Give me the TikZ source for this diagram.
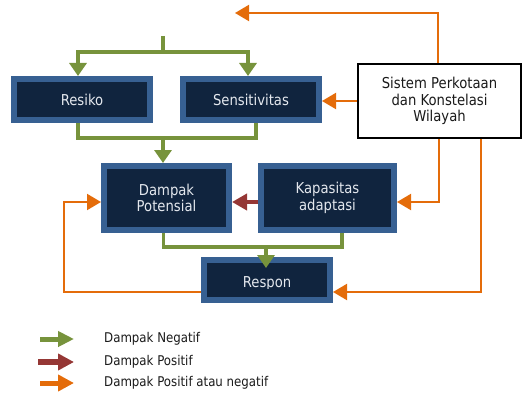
\documentclass[tikz,border=0pt]{standalone}
\usepackage{fontspec}
\setmainfont{DejaVu Sans}[FakeStretch=0.88]
\usetikzlibrary{arrows.meta,calc}
\definecolor{boxouter}{HTML}{376092}
\definecolor{boxinner}{HTML}{10243E}
\definecolor{boxtext}{HTML}{E4E8EE}
\definecolor{cgreen}{HTML}{77933C}
\definecolor{cred}{HTML}{953735}
\definecolor{corange}{HTML}{E46C0A}
\definecolor{ctext}{HTML}{1A1A1A}
\begin{document}
\begin{tikzpicture}[x=1pt,y=-1pt,
  blk/.style={draw=boxouter, line width=6pt, fill=boxinner, text=boxtext,
    font=\fontsize{15}{16.7}\selectfont, align=center, inner sep=0pt},
  sysbox/.style={draw=black, line width=1.6pt, fill=white, text=ctext,
    font=\fontsize{15}{16.7}\selectfont, align=center, inner sep=0pt,
    minimum width=163pt, minimum height=74pt},
  gline/.style={draw=cgreen, line width=3.3pt},
  garrow/.style={gline, -{Triangle[length=13pt,width=17pt]}},
  rarrow/.style={draw=cred, line width=4pt, -{Triangle[length=15pt,width=16pt]}},
  oline/.style={draw=corange, line width=2pt},
  oarrow/.style={oline, -{Triangle[length=14pt,width=16pt]}},
  legtext/.style={font=\fontsize{13.4}{15}\selectfont, text=ctext, anchor=west, inner sep=0pt}
]
\useasboundingbox (0,0) rectangle (524,393);

% boxes
\node[blk, minimum width=136pt, minimum height=41pt] (resiko) at (82,99.5) {Resiko};
\node[blk, minimum width=136pt, minimum height=41pt] (sens) at (251,99.5) {Sensitivitas};
\node[blk, minimum width=125pt, minimum height=64pt] (dampak) at (166.5,198) {Dampak\\Potensial};
\node[blk, minimum width=133pt, minimum height=64pt] (kap) at (327.5,198) {Kapasitas\\adaptasi};
\node[blk, minimum width=126pt, minimum height=40pt] (respon) at (267,280) {};
\begin{scope}
  \clip (207,262) rectangle (327,288);
  \node[text=boxtext, font=\fontsize{15}{16.7}\selectfont, inner sep=0pt] (responlabel) at (267,284) {Respon};
\end{scope}
\node[sysbox] (sistem) at (439.5,101) {Sistem Perkotaan\\dan Konstelasi\\Wilayah};

% green connectors
\coordinate (gtop) at (163,36);
\coordinate (gj1) at (163,52);
\coordinate (gj2) at (163,138);
\coordinate (gj3) at (266,247);
\draw[gline] (gtop) -- (gj1);
\draw[garrow] (gj1) -| ([xshift=-4pt]resiko.north);
\draw[garrow] (gj1) -| ([xshift=-3pt]sens.north);
\draw[gline] ([xshift=-4pt]resiko.south) -- ++(0,15) -| ([xshift=5pt]sens.south);
\draw[garrow] (gj2) -- (gj2 |- dampak.north);
\draw[gline] ([xshift=-3pt]dampak.south) -- ++(0,14) -| ([xshift=14.5pt]kap.south);
\draw[garrow, shorten >=-11pt] (gj3) -- (gj3 |- respon.north);

% red connector
\draw[rarrow] ([yshift=-4pt]kap.west) -- ([yshift=-4pt]dampak.east);

% orange connectors
\coordinate (otop) at (235,13);
\coordinate (oleft) at (64,292);
\draw[oarrow] ([xshift=-1.5pt]sistem.north) |- (otop);
\draw[oarrow] (sistem.west) -- (sistem.west -| sens.east);
\draw[oarrow] ([xshift=-0.5pt]sistem.south) |- ([yshift=-4pt]kap.east);
\draw[oarrow] ([xshift=41.5pt]sistem.south) |- ([yshift=-12pt]respon.east);
\draw[oarrow] ([yshift=-12pt]respon.west) -- (oleft) |- ([yshift=-4pt]dampak.west);

% legend
\node[legtext] (lneg) at (104,339) {Dampak Negatif};
\node[legtext] (lpos) at (104,362) {Dampak Positif};
\node[legtext] (lboth) at (104,383) {Dampak Positif atau negatif};
\coordinate (lg1) at (40,339); \coordinate (lg2) at (74,339);
\coordinate (lr1) at (38,362); \coordinate (lr2) at (74,362);
\coordinate (lo1) at (40,383); \coordinate (lo2) at (74,383);
\draw[draw=cgreen, line width=5pt, -{Triangle[length=16pt,width=15pt]}] (lg1) -- (lg2);
\draw[draw=cred, line width=6pt, -{Triangle[length=16pt,width=16pt]}] (lr1) -- (lr2);
\draw[draw=corange, line width=5pt, -{Triangle[length=16pt,width=16pt]}] (lo1) -- (lo2);
\end{tikzpicture}
\end{document}
